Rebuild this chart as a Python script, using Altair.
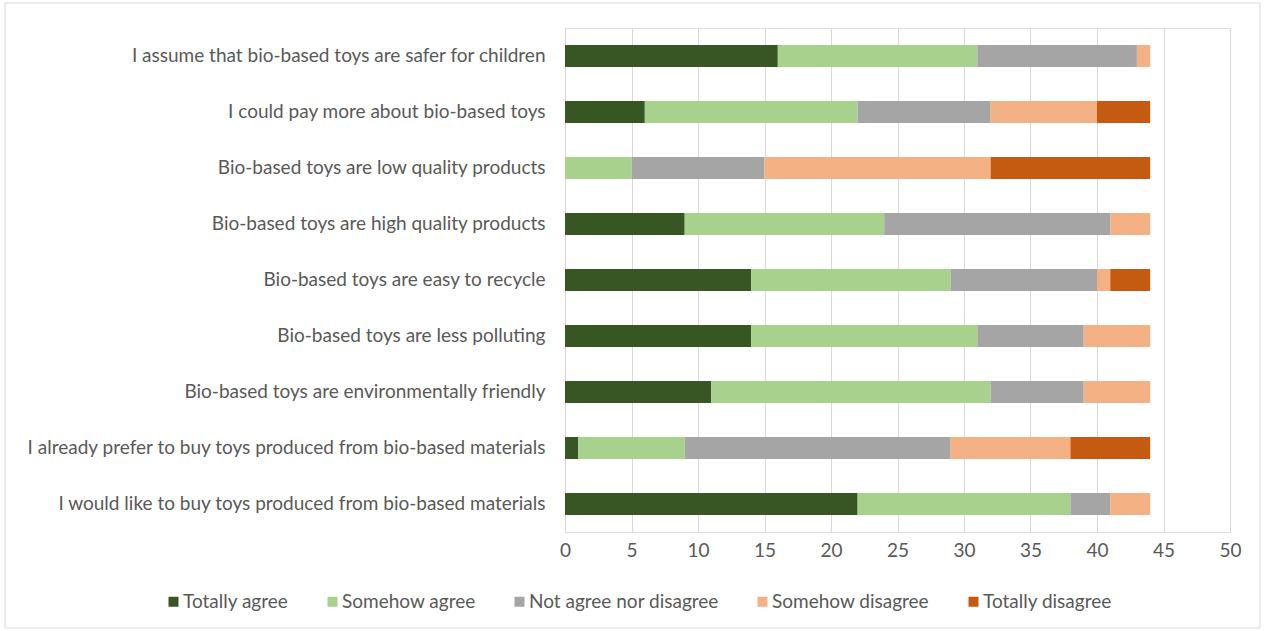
import altair as alt
import pandas as pd

statements = [
    "I assume that bio-based toys are safer for children",
    "I could pay more about bio-based toys",
    "Bio-based toys are low quality products",
    "Bio-based toys are high quality products",
    "Bio-based toys are easy to recycle",
    "Bio-based toys are less polluting",
    "Bio-based toys are environmentally friendly",
    "I already prefer to buy toys produced from bio-based materials",
    "I would like to buy toys produced from bio-based materials",
]
responses = ["Totally agree", "Somehow agree", "Not agree nor disagree",
             "Somehow disagree", "Totally disagree"]
colors = ["#375623", "#A9D18E", "#A5A5A5", "#F4B183", "#C55A11"]

totally_agree = [16, 6, 0, 9, 14, 14, 11, 1, 22]
somehow_agree = [15, 16, 5, 15, 15, 17, 21, 8, 16]
neutral = [12, 10, 10, 17, 11, 8, 7, 20, 3]
somehow_disagree = [1, 8, 17, 3, 1, 5, 5, 9, 3]
totally_disagree = [0, 4, 12, 0, 3, 0, 0, 6, 0]

series = [totally_agree, somehow_agree, neutral, somehow_disagree, totally_disagree]
rows = []
for ri, (resp, vals) in enumerate(zip(responses, series)):
    for s, v in zip(statements, vals):
        rows.append({"statement": s, "response": resp, "value": v, "order": ri})
df = pd.DataFrame(rows)

FONT = "Lato"
FS = 19
TXT = "#595959"

bars = alt.Chart(df).mark_bar(size=22).encode(
    y=alt.Y("statement:N", sort=statements, title=None,
            axis=alt.Axis(labelFontSize=FS, labelColor=TXT, labelFont=FONT,
                          labelLimit=600, labelPadding=20, ticks=False,
                          domainColor="#D9D9D9", domainWidth=1)),
    x=alt.X("value:Q", stack="zero", title=None,
            scale=alt.Scale(domain=[0, 50], nice=False),
            axis=alt.Axis(values=list(range(0, 51, 5)), labelFontSize=FS,
                          labelColor=TXT, labelFont=FONT, labelPadding=9,
                          labelFlush=False, ticks=False, domain=False,
                          grid=True, gridColor="#D9D9D9")),
    color=alt.Color("response:N", sort=responses,
                    scale=alt.Scale(domain=responses, range=colors),
                    legend=alt.Legend(orient="none", legendX=-401, legendY=564,
                                      direction="horizontal", title=None,
                                      symbolType="square", symbolSize=100,
                                      symbolStrokeWidth=0, labelLimit=400,
                                      labelFontSize=FS, labelColor=TXT,
                                      labelFont=FONT, columnPadding=34,
                                      labelOffset=0)),
    order=alt.Order("order:Q"),
)

border = alt.Chart(pd.DataFrame({"a": [0]})).mark_rect(
    fill=None, stroke="#D9D9D9", strokeWidth=1
).encode(x=alt.value(-560), x2=alt.value(695), y=alt.value(-25), y2=alt.value(600))

chart = alt.layer(border, bars).properties(
    width=665, height=504,
    autosize=alt.AutoSizeParams(type="none"),
    padding={"left": 565, "top": 28, "right": 35, "bottom": 99},
).configure_view(stroke=None).configure(background="white")

chart.save("out.html", embed_options={"renderer": "svg", "actions": False})
